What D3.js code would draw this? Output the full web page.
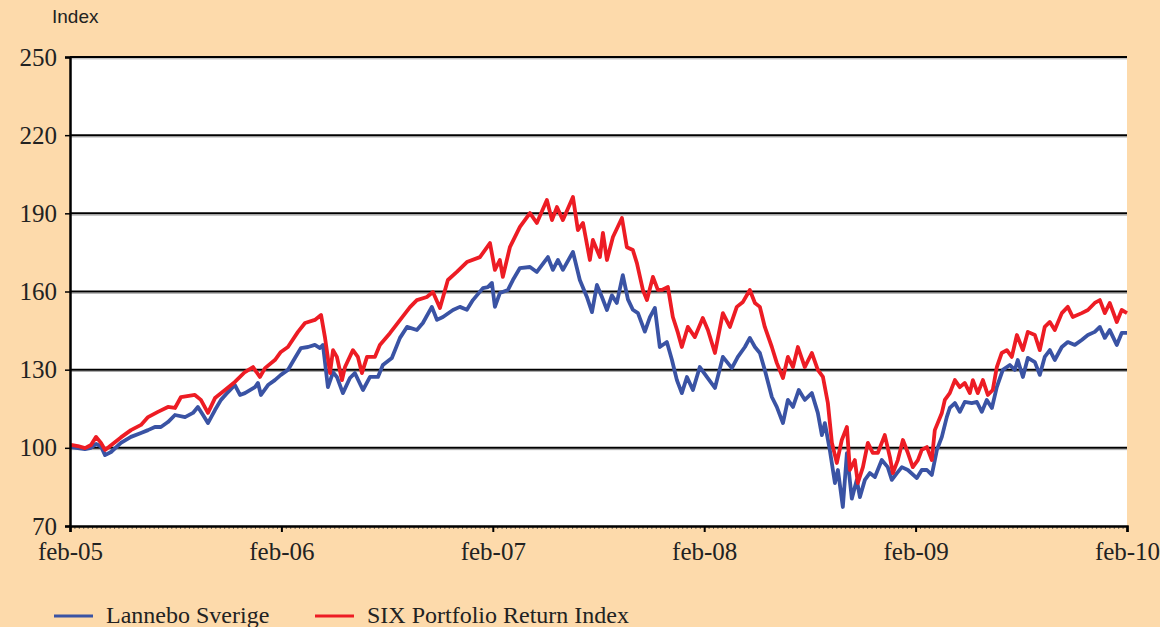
<!DOCTYPE html>
<html>
<head>
<meta charset="utf-8">
<script src="https://cdn.jsdelivr.net/npm/d3@7"></script>
<style>
  html, body { margin: 0; padding: 0; background: #fddaab; }
  svg { display: block; }
</style>
</head>
<body>
<div id="chart"></div>
<script>
// months since feb-05
const tickMonths = [0, 12, 24, 36, 48, 60];
const tickLabels = ['feb-05', 'feb-06', 'feb-07', 'feb-08', 'feb-09', 'feb-10'];
const yTicks = [70, 100, 130, 160, 190, 220, 250];

const sixMonths = [0.06,0.45,0.85,1.19,1.48,1.76,1.99,2.33,2.89,3.46,
  4.03,4.43,4.99,5.56,5.96,6.30,7.09,7.43,7.83,8.23,
  8.80,9.36,9.93,10.39,10.78,11.07,11.63,11.97,12.37,12.94,
  13.34,13.90,14.25,14.47,14.76,14.93,15.15,15.44,15.61,16.06,
  16.34,16.57,16.86,17.31,17.59,18.16,18.73,19.30,19.69,20.26,
  20.60,21.00,21.45,21.96,22.53,23.27,23.84,24.12,24.40,24.57,
  24.97,25.54,26.11,26.50,27.07,27.36,27.64,27.98,28.55,28.83,
  29.12,29.51,29.68,30.08,30.25,30.48,30.82,31.33,31.61,31.95,
  32.18,32.52,32.75,33.09,33.37,33.60,33.94,34.22,34.51,34.73,
  35.07,35.47,35.92,36.21,36.61,37.06,37.46,37.85,38.20,38.59,
  38.88,39.16,39.44,39.84,40.12,40.47,40.75,41.04,41.32,41.71,
  42.11,42.45,42.74,43.02,43.25,43.53,43.81,44.10,44.27,44.55,
  44.72,45.01,45.29,45.57,45.86,46.25,46.54,46.71,46.99,47.28,
  47.56,47.84,48.13,48.35,48.64,48.92,49.09,49.49,49.66,49.94,
  50.23,50.51,50.79,51.08,51.25,51.53,51.82,52.10,52.38,52.61,
  52.89,53.18,53.46,53.75,54.09,54.37,54.77,55.05,55.33,55.62,
  55.90,56.30,56.64,56.92,57.43,57.78,58.17,58.46,58.74,59.02,
  59.42,59.70,60.0];
const sixValues = [101.1,100.7,99.9,101.1,104.2,101.9,99.2,101.0,104.0,106.8,
  108.8,111.8,113.8,115.7,115.3,119.5,120.3,118.4,113.4,119.1,
  122.2,125.3,129.1,131.0,127.2,130.6,133.7,136.8,138.7,144.5,
  147.9,149.1,151.0,142.5,128.7,137.5,134.9,126.0,131.0,137.5,
  134.9,128.7,134.9,134.9,139.5,144.0,149.0,154.0,156.7,157.9,
  159.8,153.7,164.4,167.5,171.3,173.2,178.6,168.3,172.1,165.6,
  177.0,184.8,190.1,186.3,195.1,187.4,192.4,187.4,196.3,183.6,
  186.3,172.1,179.8,173.2,182.5,172.1,180.9,188.2,177.0,175.9,
  170.9,160.6,156.7,165.6,160.6,160.6,161.7,150.2,144.1,138.7,
  146.4,142.5,149.8,145.2,136.4,151.7,146.4,154.1,156.0,160.6,
  155.6,154.1,146.4,138.7,132.6,126.8,134.9,131.0,138.7,131.0,
  136.4,129.9,127.2,117.2,101.9,94.2,103.0,108.0,91.5,95.3,
  86.5,92.6,101.9,98.1,98.1,104.9,96.5,90.3,95.3,103.0,
  98.1,92.6,95.3,99.2,100.3,95.3,106.8,113.4,118.4,121.0,
  126.0,123.3,124.9,121.0,126.0,121.0,126.0,120.3,122.2,131.0,
  136.4,137.5,134.9,143.3,137.5,144.5,143.3,137.5,146.4,148.3,
  145.2,151.7,154.1,150.2,151.7,152.9,155.6,156.7,151.7,155.6,
  148.3,152.9,151.7];

const lanneboMonths = [0.06,0.45,0.85,1.19,1.48,1.76,1.99,2.33,2.89,3.46,
  4.03,4.43,4.82,5.16,5.56,5.96,6.53,6.98,7.26,7.55,
  7.83,8.23,8.57,8.97,9.36,9.65,9.93,10.50,10.67,10.84,
  11.24,11.63,11.97,12.37,12.77,13.11,13.51,13.90,14.19,14.36,
  14.64,14.93,15.15,15.49,15.89,16.17,16.63,17.03,17.48,17.76,
  18.27,18.73,19.13,19.69,20.03,20.54,20.83,21.17,21.74,22.13,
  22.53,22.87,23.44,23.72,23.95,24.12,24.40,24.86,25.14,25.54,
  26.11,26.50,27.13,27.41,27.70,27.98,28.55,28.94,29.34,29.63,
  29.91,30.19,30.48,30.76,31.04,31.38,31.67,31.95,32.24,32.63,
  32.92,33.20,33.48,33.88,34.17,34.45,34.73,35.02,35.36,35.75,
  36.15,36.61,37.06,37.57,37.91,38.31,38.59,38.88,39.16,39.44,
  39.84,40.12,40.47,40.75,41.04,41.37,41.71,42.11,42.45,42.68,
  42.85,43.13,43.42,43.59,43.87,44.10,44.38,44.66,44.84,45.12,
  45.40,45.69,46.08,46.42,46.65,46.94,47.22,47.56,48.07,48.35,
  48.64,48.92,49.21,49.49,49.77,49.94,50.23,50.51,50.79,51.19,
  51.48,51.76,52.04,52.33,52.61,52.95,53.35,53.63,53.80,54.09,
  54.37,54.77,55.05,55.33,55.62,55.90,56.30,56.64,57.04,57.43,
  57.78,58.17,58.46,58.74,59.02,59.42,59.70,60.0];
const lanneboValues = [100.3,99.9,99.5,100.0,101.5,100.5,97.2,98.4,101.9,104.2,
  105.7,106.8,108.0,108.0,109.9,112.6,111.8,113.4,115.7,112.6,
  109.5,114.5,118.4,121.4,124.1,120.3,121.0,123.3,124.9,120.3,
  124.1,126.0,128.0,129.9,134.5,138.3,138.7,139.5,138.3,139.5,
  123.3,129.0,127.2,121.0,126.8,128.7,122.2,127.2,127.2,131.8,
  134.5,142.2,146.4,145.2,147.9,154.1,149.1,150.2,152.9,154.1,
  153.0,156.7,161.3,161.7,163.3,154.1,159.4,160.6,164.4,169.0,
  169.4,167.5,173.2,168.3,172.1,168.3,175.2,164.4,157.9,152.1,
  162.5,158.0,152.9,158.5,155.6,166.3,157.0,153.0,151.7,144.6,
  150.2,153.7,138.7,140.6,133.7,126.0,121.0,127.2,122.2,131.0,
  127.2,123.0,134.9,130.6,134.9,138.7,142.2,138.7,136.4,129.9,
  119.5,115.7,109.5,118.4,115.7,122.2,118.4,121.0,113.4,104.9,
  109.5,99.2,86.5,91.5,77.3,98.0,80.5,87.7,81.1,87.7,
  90.3,88.8,95.3,92.6,87.7,90.3,92.6,91.5,88.4,91.5,
  91.5,89.6,99.2,104.2,111.8,115.3,117.2,113.8,117.6,117.2,
  117.6,113.8,118.4,115.3,123.3,129.9,131.8,129.9,133.7,127.2,
  134.5,132.9,128.0,134.9,137.5,133.7,138.7,140.6,139.5,141.4,
  143.3,144.5,146.4,142.2,145.2,139.5,144.1,144.1];

const seriesNames = ['Lannebo Sverige', 'SIX Portfolio Return Index'];
const seriesColors = ['#3a53a4', '#ed1c24'];

const width = 1160, height = 627;
const margin = { top: 57, right: 33, bottom: 101, left: 70 };

const svg = d3.select('#chart').append('svg')
  .attr('width', width)
  .attr('height', height);

svg.append('rect')
  .attr('width', width).attr('height', height)
  .attr('fill', '#fddaab');

const x = d3.scaleLinear().domain([0, 60]).range([margin.left, width - margin.right]);
const y = d3.scaleLinear().domain([70, 250]).range([height - margin.bottom, margin.top]);

// plot area
svg.append('rect')
  .attr('x', x(0)).attr('y', y(250))
  .attr('width', x(60) - x(0)).attr('height', y(70) - y(250))
  .attr('fill', '#fff');

// gridlines with a faint grey shadow under each
const grid = svg.append('g');
yTicks.filter(d => d > 70).forEach(t => {
  grid.append('line')
    .attr('x1', x(0)).attr('x2', x(60))
    .attr('y1', y(t) + 1.8).attr('y2', y(t) + 1.8)
    .attr('stroke', '#a8a8a8').attr('stroke-width', 1);
  grid.append('line')
    .attr('x1', x(0)).attr('x2', x(60))
    .attr('y1', y(t)).attr('y2', y(t))
    .attr('stroke', '#000').attr('stroke-width', 2);
});

// lines
const line = d3.line()
  .x(d => x(d[0]))
  .y(d => y(d[1]))
  .curve(d3.curveLinear);

const lannebo = d3.zip(lanneboMonths, lanneboValues);
const six = d3.zip(sixMonths, sixValues);

svg.append('path')
  .datum(lannebo)
  .attr('d', line)
  .attr('fill', 'none')
  .attr('stroke', seriesColors[0])
  .attr('stroke-width', 3.8)
  .attr('stroke-linejoin', 'round');

svg.append('path')
  .datum(six)
  .attr('d', line)
  .attr('fill', 'none')
  .attr('stroke', seriesColors[1])
  .attr('stroke-width', 3.8)
  .attr('stroke-linejoin', 'round');

// y axis
const yAxis = svg.append('g')
  .attr('transform', `translate(${x(0)},0)`)
  .call(d3.axisLeft(y).tickValues(yTicks).tickSize(5).tickPadding(8));
yAxis.select('.domain').attr('stroke', '#000').attr('stroke-width', 2.5);
yAxis.selectAll('.tick line').attr('stroke', '#000').attr('stroke-width', 1.5);
yAxis.selectAll('.tick text')
  .attr('font-family', '"Liberation Serif", "Times New Roman", serif')
  .attr('font-size', 25)
  .attr('fill', '#222');

// x axis, minor ticks first
const xMinor = svg.append('g')
  .attr('transform', `translate(0,${y(70)})`)
  .call(d3.axisBottom(x).tickValues(d3.range(0, 60.01, 0.25)).tickSize(3).tickFormat(''));
xMinor.select('.domain').remove();
xMinor.selectAll('.tick line').attr('stroke', '#333').attr('stroke-width', 0.7);

const xAxis = svg.append('g')
  .attr('transform', `translate(0,${y(70)})`)
  .call(d3.axisBottom(x).tickValues(tickMonths).tickSize(6).tickPadding(10)
    .tickFormat((d, i) => tickLabels[i]));
xAxis.select('.domain').attr('stroke', '#000').attr('stroke-width', 2.5);
xAxis.selectAll('.tick line').attr('stroke', '#000').attr('stroke-width', 2);
xAxis.selectAll('.tick text')
  .attr('font-family', '"Liberation Serif", "Times New Roman", serif')
  .attr('font-size', 25)
  .attr('fill', '#222');

// unit label
svg.append('text')
  .attr('x', 52).attr('y', 23)
  .attr('font-family', '"Liberation Sans", Arial, sans-serif')
  .attr('font-size', 19)
  .attr('fill', '#222')
  .text('Index');

// legend
const legendX = [54, 315];
seriesNames.forEach((name, i) => {
  const g = svg.append('g').attr('transform', `translate(${legendX[i]},616)`);
  g.append('line')
    .attr('x1', 0).attr('x2', 39)
    .attr('y1', 0).attr('y2', 0)
    .attr('stroke', seriesColors[i])
    .attr('stroke-width', 3);
  g.append('text')
    .attr('x', 52).attr('y', 7)
    .attr('font-family', '"Liberation Serif", "Times New Roman", serif')
    .attr('font-size', 24)
    .attr('fill', '#222')
    .text(name);
});
</script>
</body>
</html>
